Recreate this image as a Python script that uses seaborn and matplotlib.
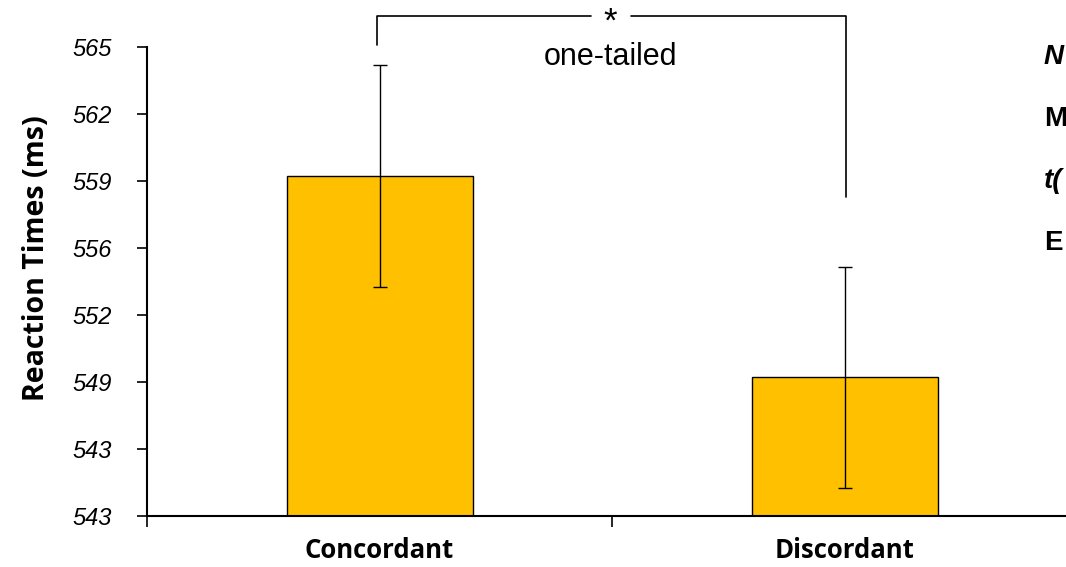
import matplotlib
matplotlib.use("Agg")
import matplotlib.pyplot as plt
import seaborn as sns
import numpy as np
import pandas as pd

# data
conditions = ["Concordant", "Discordant"]
mean_rt = [558.95, 549.5]
sem_rt = [5.2, 5.2]
tick_values = list(np.linspace(543, 565, 8))
tick_labels = ["543", "543", "549", "552", "556", "559", "562", "565"]
side_notes = ["N", "M", "t(", "E"]

df = pd.DataFrame({"condition": conditions, "rt": mean_rt})

sns.set_style("white")
plt.rcParams["font.family"] = ["Liberation Sans", "DejaVu Sans"]
for key in ["text.color", "axes.labelcolor", "xtick.color", "ytick.color"]:
    plt.rcParams[key] = "black"

fig = plt.figure(figsize=(10.66, 5.67), dpi=100)
ax = fig.add_axes([147 / 1066, 1 - 516 / 567, 930 / 1066, 469 / 567])

sns.barplot(data=df, x="condition", y="rt", color="#FFC000", width=0.4,
            edgecolor="black", linewidth=1, saturation=1, errorbar=None, ax=ax)
ax.errorbar(range(len(conditions)), mean_rt, yerr=sem_rt, fmt="none",
            ecolor="black", elinewidth=1, capsize=5, capthick=1)

ax.set_xlim(-0.5, 1.5)
ax.set_ylim(543, 565)
ax.set_yticks(tick_values)
ax.set_yticklabels(tick_labels, fontsize=17, style="italic")
ax.set_xticks([-0.5, 0.5, 1.5], minor=False)
ax.set_xticklabels([])
ax.set_xticks([0, 1], minor=True)
ax.set_xticklabels(conditions, minor=True, fontsize=18.5, fontweight="bold",
                   fontfamily="Open Sans")
ax.tick_params(axis="x", which="minor", length=0, pad=15, bottom=False)
ax.tick_params(axis="x", which="major", length=8, width=1.2, direction="out", bottom=True)
ax.tick_params(axis="y", length=7, width=1.2, direction="out", pad=18, left=True)
ax.set_xlabel("")
ax.set_ylabel("Reaction Times (ms)", fontsize=20.5, fontweight="bold",
              fontfamily="Open Sans", labelpad=16)
ax.yaxis.label.set_y(0.55)

for side in ["top", "right"]:
    ax.spines[side].set_visible(False)
for side in ["left", "bottom"]:
    ax.spines[side].set_color("black")
    ax.spines[side].set_linewidth(1.5)

# significance bracket
top = 566.45
ax.plot([-0.006, -0.006, 0.455], [565.1, top, top], color="black", lw=1.2, clip_on=False)
ax.plot([0.54, 1.004, 1.004], [top, top, 557.95], color="black", lw=1.2, clip_on=False)
ax.text(0.497, 566.15, "*", ha="center", va="center", fontsize=25, clip_on=False)
ax.text(0.497, 564.55, "one-tailed", ha="center", va="center", fontsize=22)

for i, note in enumerate(side_notes):
    fig.text(1044 / 1066, 1 - (57 + 62 * i) / 567, note, ha="left", va="center",
             fontsize=20, fontweight="bold", style="italic" if i in (0, 2) else "normal")

fig.savefig("out.png", dpi=100)
